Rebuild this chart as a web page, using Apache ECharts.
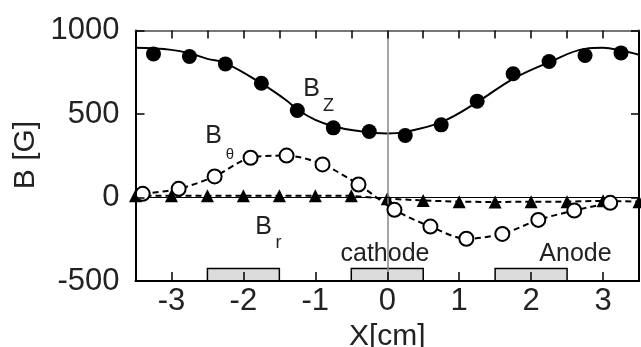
<!DOCTYPE html>
<html>
<head>
<meta charset="utf-8">
<script src="https://cdn.jsdelivr.net/npm/echarts@6/dist/echarts.min.js"></script>
<style>
html,body{margin:0;padding:0;background:#fff;}
#chart{width:641px;height:347px;}
</style>
</head>
<body>
<div id="chart"></div>
<script>
// ---- data ----
const xTickLabels = [-3, -2, -1, 0, 1, 2, 3];
const topTicks = [-3.5, -3, -2.5, -2, -1.5, -1, -0.5, 0, 0.5, 1, 1.5, 2, 2.5, 3, 3.5];
const yTickLabels = [-500, 0, 500, 1000];

const bzX = [-3.25, -2.75, -2.25, -1.75, -1.25, -0.75, -0.25, 0.25, 0.75, 1.25, 1.75, 2.25, 2.75, 3.25];
const bzVals = [860, 844, 800, 684, 521, 417, 395, 371, 435, 577, 741, 814, 850, 866];

const bzFitX = [-3.5, -3.0, -2.75, -2.5, -2.25, -1.75, -1.4, -1.25, -1.0, -0.75, -0.45, 0, 0.25, 0.75, 1.25, 1.75, 2.25, 2.75, 3.0, 3.25, 3.5];
const bzFitVals = [896, 884, 864, 830, 805, 683, 581, 527, 465, 427, 401, 383, 393, 451, 571, 711, 810, 890, 896, 880, 855];

const bthX = [-3.4, -2.9, -2.4, -1.9, -1.4, -0.9, -0.4, 0.1, 0.6, 1.1, 1.6, 2.1, 2.6, 3.1];
const bthVals = [22, 52, 126, 238, 251, 198, 78, -74, -174, -247, -218, -134, -78, -32];

const brX = [-3.5, -3, -2.5, -2, -1.5, -1, -0.5, 0, 0.5, 1, 1.5, 2, 2.5, 3, 3.5];
const brVals = [10, 10, 10, 10, 10, 10, 10, -7, -18, -25, -27, -25, -25, -20, -25];

const electrodes = [[-2.5, -1.5], [-0.5, 0.5], [1.5, 2.5]];
const electrodeBottom = -500;
const electrodeTop = -425;

const FONT = "'Liberation Sans', Arial, sans-serif";

const zip = (xs, ys) => xs.map((x, i) => [x, ys[i]]);

const chart = echarts.init(document.getElementById('chart'), null, {renderer: 'canvas'});

const option = {
  animation: false,
  backgroundColor: '#fff',
  grid: {left: 135.5, right: 2, top: 30.5, bottom: 66, containLabel: false, outerBoundsMode: 'none'},
  xAxis: [
    {
      type: 'value', position: 'bottom', min: -3.5, max: 3.5, interval: 0.5, z: 10,
      axisLine: {onZero: false, lineStyle: {color: '#000', width: 2}},
      axisTick: {inside: true, length: 9, lineStyle: {color: '#000', width: 1.5}, customValues: xTickLabels},
      axisLabel: {customValues: xTickLabels, color: '#222', fontSize: 31, fontFamily: FONT, margin: 5,
        formatter: v => String(v)},
      splitLine: {show: false},
      name: 'X[cm]', nameLocation: 'middle', nameGap: 32,
      nameTextStyle: {color: '#222', fontSize: 30, fontFamily: FONT}
    },
    {
      type: 'value', position: 'top', min: -3.5, max: 3.5, interval: 0.5, z: 10,
      axisLine: {onZero: false, lineStyle: {color: '#777', width: 2}},
      axisTick: {inside: true, length: 8, lineStyle: {color: '#000', width: 1.5}, customValues: topTicks},
      axisLabel: {show: false},
      splitLine: {show: false}
    }
  ],
  yAxis: [
    {
      type: 'value', position: 'left', min: -500, max: 1000, interval: 500, z: 10,
      axisLine: {onZero: false, lineStyle: {color: '#000', width: 2}},
      axisTick: {inside: true, length: 9, lineStyle: {color: '#000', width: 1.5}},
      axisLabel: {color: '#222', fontSize: 31, fontFamily: FONT, margin: 16, padding: [0, 0, 8, 0],
        formatter: v => String(v)},
      splitLine: {show: false}
    },
    {
      type: 'value', position: 'right', min: -500, max: 1000, interval: 500, z: 10,
      axisLine: {onZero: false, lineStyle: {color: '#000', width: 2}},
      axisTick: {inside: true, length: 8, lineStyle: {color: '#000', width: 1.5}},
      axisLabel: {show: false},
      splitLine: {show: false}
    }
  ],
  series: [
    {
      name: 'electrodes', type: 'line', data: [], z: 1, silent: true,
      markArea: {
        silent: true,
        itemStyle: {color: '#dcdcdc', opacity: 1, borderColor: '#000', borderWidth: 1.5},
        label: {show: false},
        data: electrodes.map(e => [{xAxis: e[0], yAxis: electrodeBottom}, {xAxis: e[1], yAxis: electrodeTop}])
      }
    },
    {
      name: 'refs', type: 'line', data: [], z: 2, silent: true,
      markLine: {
        silent: true, symbol: 'none', label: {show: false},
        data: [
          {xAxis: 0, lineStyle: {color: '#888', width: 1.5, type: 'solid'}},
          {yAxis: 0, lineStyle: {color: '#000', width: 1, type: 'solid'}}
        ]
      }
    },
    {
      name: 'Bz fit', type: 'line', data: zip(bzFitX, bzFitVals), smooth: 0.4,
      showSymbol: false, symbol: 'none', z: 3,
      lineStyle: {color: '#000', width: 2}
    },
    {
      name: 'Br', type: 'line', data: zip(brX, brVals), z: 4,
      symbol: 'triangle', symbolSize: 13,
      itemStyle: {color: '#000', opacity: 1},
      lineStyle: {color: '#000', width: 2, type: [6, 4]}
    },
    {
      name: 'Btheta', type: 'line', data: zip(bthX, bthVals), smooth: 0.3, z: 5,
      symbol: 'circle', symbolSize: 14,
      itemStyle: {color: '#fff', opacity: 1, borderColor: '#000', borderWidth: 2},
      lineStyle: {color: '#000', width: 2, type: [6, 4]}
    },
    {
      name: 'Bz', type: 'scatter', data: zip(bzX, bzVals), z: 6,
      symbol: 'circle', symbolSize: 15,
      itemStyle: {color: '#000', opacity: 1}
    }
  ],
  graphic: [
    {type: 'text', x: 26, y: 155, rotation: Math.PI / 2, z: 20, style: {text: 'B [G]', font: '30px ' + FONT, fill: '#222', align: 'center', verticalAlign: 'middle'}},
    {type: 'text', x: 311.5, y: 89, z: 20, style: {text: 'B', font: '25px ' + FONT, fill: '#222', align: 'center', verticalAlign: 'middle'}},
    {type: 'text', x: 328.5, y: 106.5, z: 20, style: {text: 'Z', font: '18px ' + FONT, fill: '#222', align: 'center', verticalAlign: 'middle'}},
    {type: 'text', x: 213.5, y: 136.5, z: 20, style: {text: 'B', font: '25px ' + FONT, fill: '#222', align: 'center', verticalAlign: 'middle'}},
    {type: 'text', x: 230, y: 155, z: 20, style: {text: 'θ', font: '15px ' + FONT, fill: '#222', align: 'center', verticalAlign: 'middle'}},
    {type: 'text', x: 263.5, y: 227, z: 20, style: {text: 'B', font: '25px ' + FONT, fill: '#222', align: 'center', verticalAlign: 'middle'}},
    {type: 'text', x: 278.5, y: 243.5, z: 20, style: {text: 'r', font: '18px ' + FONT, fill: '#222', align: 'center', verticalAlign: 'middle'}},
    {type: 'text', x: 385, y: 254.5, z: 20, style: {text: 'cathode', font: '25px ' + FONT, fill: '#222', align: 'center', verticalAlign: 'middle'}},
    {type: 'text', x: 575.5, y: 254.5, z: 20, style: {text: 'Anode', font: '25px ' + FONT, fill: '#222', align: 'center', verticalAlign: 'middle'}}
  ]
};
chart.setOption(option);
</script>
</body>
</html>
